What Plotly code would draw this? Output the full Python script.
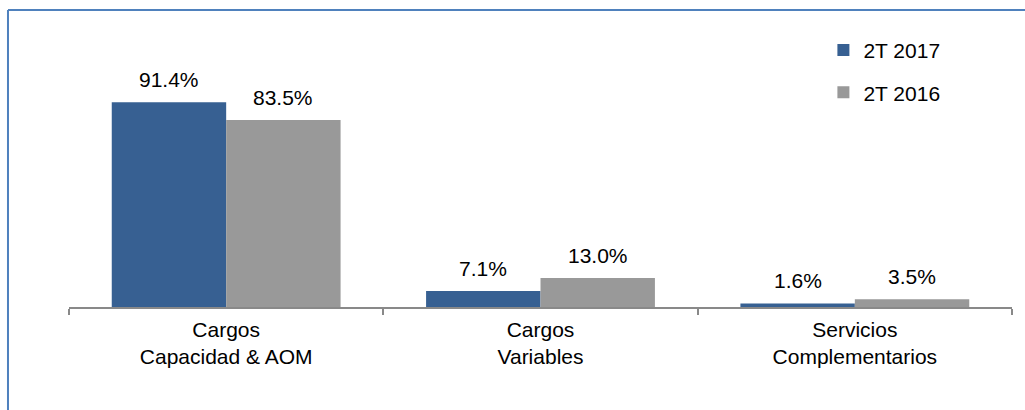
import plotly.graph_objects as go

# Revenue mix by charge type, second quarter comparison
categories = ["Cargos<br>Capacidad & AOM", "Cargos<br>Variables", "Servicios<br>Complementarios"]
series_names = ["2T 2017", "2T 2016"]
values_2017 = [91.4, 7.1, 1.6]
values_2016 = [83.5, 13.0, 3.5]

colors = {"2T 2017": "#376092", "2T 2016": "#999999"}
FONT = "Liberation Sans, Arial, sans-serif"
FS = 21

fig = go.Figure()
for name, vals in zip(series_names, [values_2017, values_2016]):
    fig.add_trace(go.Bar(
        x=categories, y=vals, name=name,
        marker=dict(color=colors[name], line=dict(width=0)),
        legendgroup=name,
        hoverinfo="skip",
    ))

# value labels above each bar
bar_offset = 0.182
for k, vals in enumerate([values_2017, values_2016]):
    dx = -bar_offset if k == 0 else bar_offset
    for i, v in enumerate(vals):
        fig.add_annotation(
            x=i + dx, y=v, xref="x", yref="y",
            text=f"{v:.1f}%", showarrow=False,
            yanchor="bottom", yshift=9,
            font=dict(family=FONT, size=FS, color="#000000"),
        )

# frame lines along the top and left edge
fig.add_shape(type="line", xref="paper", yref="paper",
              x0=-0.0647, x1=1.02, y0=1.326, y1=1.326,
              line=dict(color="#4F81BD", width=2))
fig.add_shape(type="line", xref="paper", yref="paper",
              x0=-0.0647, x1=-0.0647, y0=-0.47, y1=1.326,
              line=dict(color="#4F81BD", width=2))

fig.update_layout(
    width=1025, height=410,
    margin=dict(l=69, r=13, t=83, b=103),
    paper_bgcolor="white", plot_bgcolor="white",
    barmode="group", bargap=0.272, bargroupgap=0,
    font=dict(family=FONT, size=FS, color="#000000"),
    showlegend=True,
    legend=dict(
        x=0.80, y=1.237, xanchor="left", yanchor="top",
        font=dict(family=FONT, size=FS, color="#000000"),
        bgcolor="rgba(0,0,0,0)",
        traceorder="grouped", tracegroupgap=12,
        itemwidth=30,
    ),
    xaxis=dict(
        type="category",
        showline=True, linecolor="#898989", linewidth=1.5,
        ticks="outside", tickson="boundaries", ticklen=6,
        tickcolor="#898989", tickwidth=1.5,
        ticklabelstandoff=3,
        showgrid=False, zeroline=False,
        tickfont=dict(family=FONT, size=FS, color="#000000"),
    ),
    yaxis=dict(
        range=[0, 100], visible=False, showgrid=False, zeroline=False,
    ),
)

fig.write_html("out.html")
